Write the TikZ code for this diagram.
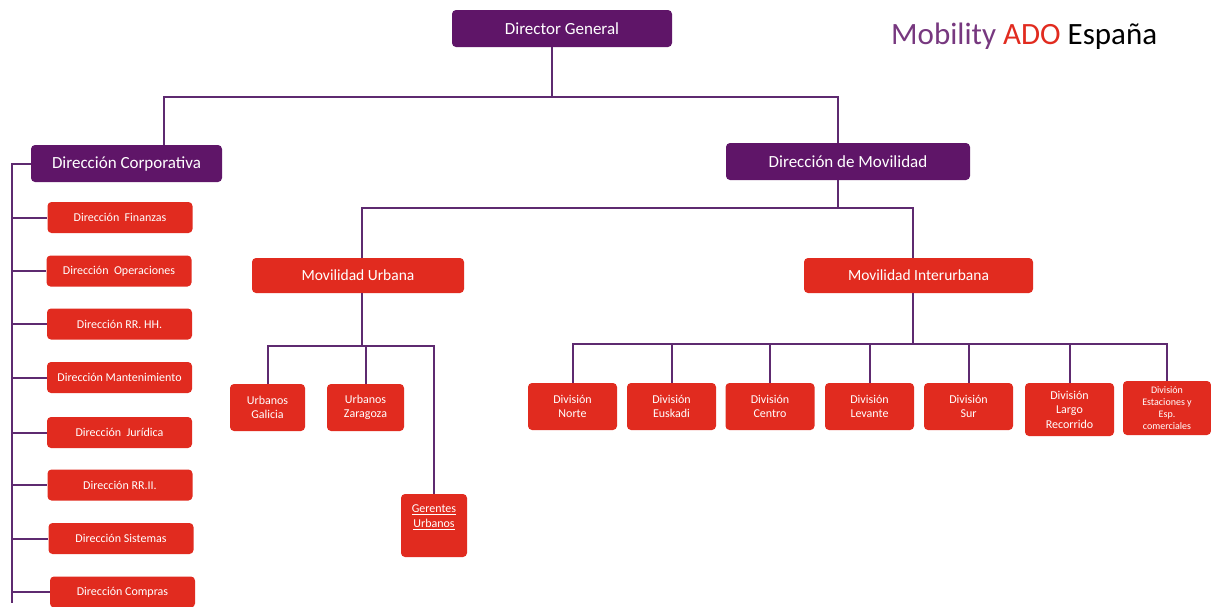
\documentclass[tikz,border=0pt]{standalone}
\usepackage{fontspec}
\setmainfont{Carlito}
\usepackage{tikz}

\definecolor{adopurple}{HTML}{5F1568}
\definecolor{adored}{HTML}{E12B1F}
\definecolor{adoline}{HTML}{5E2A70}

\tikzset{
  box/.style={rounded corners=4pt, text=white, align=center, inner sep=0pt},
  topbox/.style={box, fill=adopurple, minimum height=37pt, font=\fontsize{17}{19}\selectfont},
  midbox/.style={box, fill=adored, minimum height=35pt, font=\fontsize{15.5}{17}\selectfont},
  listbox/.style={box, fill=adored, minimum width=145pt, minimum height=31pt, font=\fontsize{12}{14}\selectfont},
  smallbox/.style={box, fill=adored, minimum width=89pt, minimum height=47pt, font=\fontsize{12}{14.5}\selectfont},
  link/.style={draw=adoline, line width=2pt}
}

\begin{document}
\begin{tikzpicture}[x=1pt,y=-1pt]
\useasboundingbox (0,0) rectangle (1211,606);

% titulo
\node[anchor=west, inner sep=0pt, font=\fontsize{31}{34}\selectfont] (title) at (891,36)
  {\textcolor{adopurple!85!white}{Mobility} \textcolor{adored}{ADO} España};

% nivel superior
\node[topbox, minimum width=220pt] (dg) at (562,28.5) {Director General};
\node[topbox, minimum width=191pt] (corp) at (126.5,163.5) {Dirección Corporativa};
\node[topbox, minimum width=244pt] (mov) at (848,161.5) {Dirección de Movilidad};

% direcciones corporativas
\node[listbox] (fin) at (120,217.5) {Dirección~ Finanzas};
\node[listbox] (ope) at (119,271) {Dirección~ Operaciones};
\node[listbox] (rrhh) at (119.5,324) {Dirección RR. HH.};
\node[listbox] (mant) at (119.5,377.5) {Dirección Mantenimiento};
\node[listbox] (jur) at (119.5,432.5) {Dirección~ Jurídica};
\node[listbox] (rrii) at (120,485) {Dirección RR.II.};
\node[listbox] (sis) at (121,538.5) {Dirección Sistemas};
\node[listbox] (comp) at (122.5,592) {Dirección Compras};

% movilidad
\node[midbox, minimum width=212pt] (urb) at (358,275.5) {Movilidad Urbana};
\node[midbox, minimum width=229pt] (inter) at (918.5,275.5) {Movilidad Interurbana};

\node[smallbox, minimum width=75pt] (gal) at (267.5,407.5) {Urbanos\\Galicia};
\node[smallbox, minimum width=77pt] (zar) at (365.5,407.5) {Urbanos\\Zaragoza};
\node[smallbox, minimum width=66pt, minimum height=63pt] (ger) at (434,525.5)
  {\underline{Gerentes}\\\underline{Urbanos}\\\strut};

\node[smallbox] (norte) at (572.5,406.5) {División\\Norte};
\node[smallbox] (eusk) at (671.5,406.5) {División\\Euskadi};
\node[smallbox] (cent) at (770,406.5) {División\\Centro};
\node[smallbox] (lev) at (869.5,406.5) {División\\Levante};
\node[smallbox] (sur) at (968.5,406.5) {División\\Sur};
\node[smallbox, minimum height=53pt] (largo) at (1069.5,409.5) {División\\Largo\\Recorrido};
\node[smallbox, minimum width=88pt, minimum height=54pt, font=\fontsize{10}{12}\selectfont] (est) at (1167,408)
  {División\\Estaciones y\\Esp.\\comerciales};

% conectores
\draw[link] ([xshift=-10pt]dg.south) -- ++(0,50) coordinate (topbus);
\draw[link] (topbus) -| ([xshift=37.5pt]corp.north);
\draw[link] (topbus) -| ([xshift=-10pt]mov.north);

\draw[link] (corp.west) -- ++(-19,0) coordinate (lbus) -- ++(0,439.5);
\foreach \n in {fin,ope,rrhh,mant,jur,rrii,sis,comp}
  \draw[link] (lbus) |- (\n.west);

\draw[link] ([xshift=-10pt]mov.south) -- ++(0,27.5) coordinate (mbus);
\draw[link] (mbus) -| ([xshift=4pt]urb.north);
\draw[link] (mbus) -| ([xshift=-5.5pt]inter.north);

\draw[link] ([xshift=4pt]urb.south) -- ++(0,52.5) coordinate (ubus);
\foreach \n in {gal,zar,ger}
  \draw[link] (ubus) -| (\n.north);

\draw[link] ([xshift=-5.5pt]inter.south) -- ++(0,50.5) coordinate (ibus);
\foreach \n in {norte,eusk,cent,lev,sur,largo,est}
  \draw[link] (ibus) -| (\n.north);
\end{tikzpicture}
\end{document}
